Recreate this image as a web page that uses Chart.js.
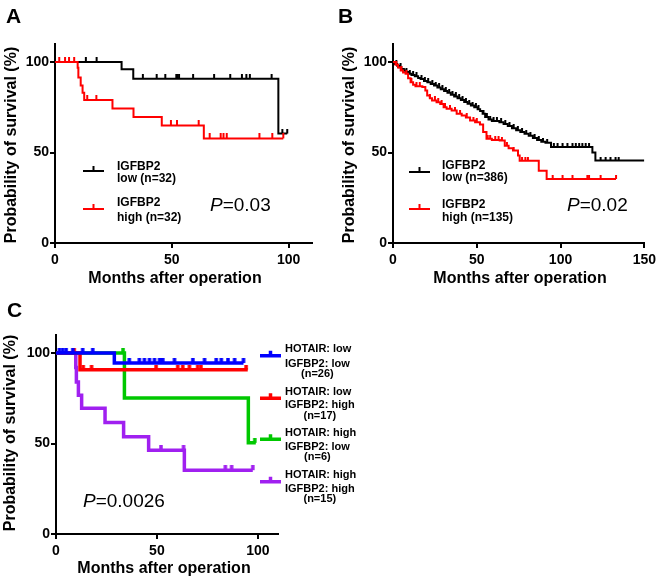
<!DOCTYPE html>
<html>
<head>
<meta charset="utf-8">
<script src="https://cdn.jsdelivr.net/npm/chart.js@4.4.1/dist/chart.umd.min.js"></script>
<style>
  body { margin: 0; background: #fff; }
  #wrap { position: relative; width: 660px; height: 580px; background: #fff; }
  canvas { position: absolute; }
</style>
</head>
<body>
<div id="wrap">
  <canvas id="chartA" width="330" height="290" style="left:0;top:0;width:330px;height:290px"></canvas>
  <canvas id="chartB" width="330" height="290" style="left:330px;top:0;width:330px;height:290px"></canvas>
  <canvas id="chartC" width="380" height="290" style="left:0;top:290px;width:380px;height:290px"></canvas>
</div>
<script>
const FONT = '"Liberation Sans", Arial, Helvetica, sans-serif';

// axis ticks
const yTickValues = [0, 50, 100];
const yTickLabels = ['0', '50', '100'];
const xTickValuesA = [0, 50, 100];
const xTickLabelsA = ['0', '50', '100'];
const xTickValuesB = [0, 50, 100, 150];
const xTickLabelsB = ['0', '50', '100', '150'];
const xTickValuesC = [0, 50, 100];
const xTickLabelsC = ['0', '50', '100'];

// Panel A : months / survival %, censored months
const aLowTimes = [0, 28.5, 33.5, 95.6, 99.4];
const aLowSurv  = [100, 96, 90.8, 60.5, 60.5];
const aLowCens  = [13.2, 17.8, 37.6, 43.5, 47.2, 51.9, 52.4, 53.1, 59.1, 68.1, 75, 80, 81.9, 83.4, 92.7, 97.3, 99.4];
const aHighTimes = [0, 9.7, 10, 11, 11.8, 12.5, 24.6, 33.6, 45.7, 63.7, 97.7];
const aHighSurv  = [100, 96.9, 91.5, 87, 83.1, 79, 74.3, 69.6, 65, 57.8, 57.8];
const aHighCens  = [1.8, 4.3, 6, 8.2, 13.8, 17.7, 49.6, 52.2, 61.5, 66.2, 70.9, 72.1, 73.5, 87.5, 93, 97.7];

// Panel B
const bLowTimes = [0, 1, 2.5, 3.6, 5, 6.5, 7.5, 9, 11, 13, 15, 16.5, 18.5, 20.5, 22.5, 24.5, 26.5, 28.5, 30.5,
  32.5, 34.5, 36.5, 38.5, 40.5, 42.5, 44.5, 46.5, 48.5, 50.5, 52, 53.5, 55, 57, 59, 63.5, 66, 68.5, 71, 73.5,
  76, 78.5, 81, 83.5, 86, 88.5, 91, 94.3, 119, 120.8, 150];
const bLowSurv = [100, 99, 98, 97.2, 96.2, 95.3, 94.5, 93.6, 92.8, 92.2, 91.2, 90.6, 89.6, 88.8, 87.9, 87, 86, 85, 84,
  83, 82, 81, 80, 79, 78, 77, 76, 75, 74, 73, 71.5, 69.6, 68.2, 67.5, 66.8, 65.8, 64.7, 63.4, 62.3,
  61.3, 60.4, 59.3, 58.1, 57, 56, 55.4, 53, 50, 45.6, 45.6];
const bLowCens = [2, 4.5, 8, 10, 12, 14, 17, 19, 21, 23.5, 25.5, 27.5, 29.5, 31.5, 33.5, 35.5, 37.5, 39.5, 41.5, 43.5,
  45.5, 47.5, 49.5, 51, 54, 56, 58, 60, 62, 64.5, 67, 69.5, 72, 74.5, 77, 79.5, 82, 84.5, 87, 89.5, 92,
  96, 98.2, 101.2, 104.1, 107.1, 109.1, 111.1, 113, 115, 117, 123.9, 126.9, 129.8, 132.8, 134.7];
const bHighTimes = [0, 1.5, 3, 4.6, 6, 7.5, 9, 10.5, 12, 13.4, 17.5, 19.3, 20.4, 22, 23.3, 26, 28.2, 30.2, 32, 35,
  38, 41, 43.5, 46, 49, 51.9, 53.8, 55.8, 59, 63.7, 66.7, 69, 71.6, 74.6, 75.6, 87, 91.7, 133.1];
const bHighSurv = [100, 98.5, 97, 95.4, 94.2, 93.5, 91, 88.9, 87.5, 86.7, 86.2, 84.3, 81.5, 80, 78.8, 77.8, 76.9, 75.1, 74.2, 73.2,
  71.4, 70.5, 69.4, 67.7, 66.8, 65.5, 61.3, 57.6, 57, 56.6, 53.8, 52.4, 51.1, 48.3, 45.5, 40, 35.4, 35.4];
const bHighCens = [2, 5, 8, 11, 14, 16, 22, 25, 27, 29, 31, 34, 37, 40, 44, 48, 50, 56.5, 58, 61, 63, 65, 68, 72,
  77, 79, 80.5, 95.3, 101.2, 107.1, 116, 117, 123.9, 133.1];

// Panel C
const cBlueTimes = [0, 28.9, 92.9];
const cBlueSurv  = [100, 94.5, 94.5];
const cBlueCens  = [1.7, 3.3, 5, 8.3, 13.2, 18.2, 36.3, 41.3, 43.8, 46.3, 48.8, 51.3, 52.1, 52.9, 58.7, 67.8, 73.6, 79.4, 81.9, 85.2, 88.5, 92.9];
const cRedTimes = [0, 11.9, 95];
const cRedSurv  = [100, 90.8, 90.8];
const cRedCens  = [9, 13.5, 17.6, 49.6, 60.3, 62.8, 66.1, 70.2, 71.8, 94.2];
const cGreenTimes = [0, 33.9, 95.3, 99];
const cGreenSurv  = [100, 75.2, 50.4, 50.4];
const cGreenCens  = [33.2, 98.5];
const cPurpleTimes = [0, 9.8, 10.1, 11.1, 12.7, 24.3, 33.5, 45.9, 63.6, 97.5];
const cPurpleSurv  = [100, 92, 84, 76.7, 69.5, 61.6, 53.7, 46.3, 35.3, 35.3];
const cPurpleCens  = [52, 63.2, 83.9, 87, 97.5];

// legends
const legendA = [['IGFBP2', 'low (n=32)'], ['IGFBP2', 'high (n=32)']];
const legendB = [['IGFBP2', 'low (n=386)'], ['IGFBP2', 'high (n=135)']];
const legendC = [
  ['HOTAIR: low', 'IGFBP2: low', '(n=26)'],
  ['HOTAIR: low', 'IGFBP2: high', '(n=17)'],
  ['HOTAIR: high', 'IGFBP2: low', '(n=6)'],
  ['HOTAIR: high', 'IGFBP2: high', '(n=15)']
];
const colorsC = ['#0000ff', '#ff0000', '#00c800', '#a020f0'];

function kmLine(times, surv) {
  return times.map((t, i) => ({ x: t, y: surv[i] }));
}
function survAt(times, surv, t) {
  let v = surv[0];
  for (let i = 0; i < times.length; i++) if (times[i] <= t) v = surv[i];
  return v;
}
function tickMark(color, w, h) {
  const c = document.createElement('canvas');
  c.width = Math.ceil(w) + 2;
  c.height = h * 2;
  const g = c.getContext('2d');
  g.fillStyle = color;
  g.fillRect((c.width - w) / 2, 0, w, h);
  return c;
}
function curve(times, surv, cens, color, width, tickH) {
  return [
    { data: kmLine(times, surv), borderColor: color, borderWidth: width, stepped: 'before', pointRadius: 0, fill: false },
    { data: cens.map(t => ({ x: t, y: survAt(times, surv, t) })), showLine: false,
      pointStyle: tickMark(color, width, tickH), pointRadius: 3, borderColor: color, backgroundColor: color }
  ];
}

function axes(xMax, xVals, xLabels, yWidth, xHeight) {
  const tickFont = { family: FONT, size: 14, weight: 'bold' };
  const grid = { drawOnChartArea: false, color: '#000', lineWidth: 2, tickLength: 5 };
  const border = { color: '#000', width: 2 };
  return {
    x: {
      type: 'linear', min: 0, max: xMax, grid, border,
      afterBuildTicks: s => { s.ticks = xVals.map(v => ({ value: v })); },
      afterFit: s => { s.height = xHeight; },
      ticks: { color: '#000', font: tickFont, padding: 4, maxRotation: 0, autoSkip: false, callback: (v, i) => xLabels[i] }
    },
    y: {
      type: 'linear', min: 0, max: 110, grid, border,
      afterBuildTicks: s => { s.ticks = yTickValues.map(v => ({ value: v })); },
      afterFit: s => { s.width = yWidth; },
      ticks: { color: '#000', font: tickFont, padding: 1, autoSkip: false, callback: (v, i) => yTickLabels[i] }
    }
  };
}

function txt(ctx, s, x, y, size, o = {}) {
  ctx.font = `${o.style || 'normal'} ${o.weight || 'bold'} ${size}px ${FONT}`;
  ctx.fillStyle = '#000';
  ctx.textAlign = o.align || 'left';
  ctx.textBaseline = o.base || 'alphabetic';
  ctx.fillText(s, x, y);
}
function yTitle(ctx, cx, cy) {
  ctx.save();
  ctx.translate(cx, cy);
  ctx.rotate(-Math.PI / 2);
  txt(ctx, 'Probability of survival (%)', 0, 0, 16, { align: 'center', base: 'middle' });
  ctx.restore();
}
function xTitle(ctx, cx, cy) {
  txt(ctx, 'Months after operation', cx, cy, 16, { align: 'center', base: 'middle' });
}
function pValue(ctx, val, x, y) {
  txt(ctx, 'P', x, y, 19, { style: 'italic', weight: 'normal' });
  const w = ctx.measureText('P').width;
  txt(ctx, '=' + val, x + w, y, 19, { weight: 'normal' });
}
function legendMark(ctx, x1, x2, y, color, w, h) {
  ctx.strokeStyle = color;
  ctx.lineWidth = w;
  ctx.beginPath();
  ctx.moveTo(x1, y); ctx.lineTo(x2, y);
  const m = (x1 + x2) / 2;
  ctx.moveTo(m, y); ctx.lineTo(m, y - h);
  ctx.stroke();
}

const base = {
  responsive: false, animation: false, devicePixelRatio: 1,
  plugins: { legend: { display: false }, tooltip: { enabled: false } }
};

// ---- A ----
new Chart(document.getElementById('chartA'), {
  type: 'line',
  data: { datasets: [
    ...curve(aHighTimes, aHighSurv, aHighCens, '#ff0000', 2, 5),
    ...curve(aLowTimes, aLowSurv, aLowCens, '#000000', 2, 5)
  ] },
  options: { ...base, layout: { padding: { left: 0, top: 44, right: 18, bottom: 0 } },
    scales: axes(110, xTickValuesA, xTickLabelsA, 55, 47) },
  plugins: [{ id: 'overlayA', afterDraw(chart) {
    const ctx = chart.ctx;
    txt(ctx, 'A', 6, 23, 21);
    yTitle(ctx, 12, 145);
    xTitle(ctx, 175, 279);
    legendMark(ctx, 83, 104, 171, '#000', 2, 5);
    txt(ctx, legendA[0][0], 117, 169.5, 12);
    txt(ctx, legendA[0][1], 117, 181.5, 12);
    legendMark(ctx, 83, 104, 209, '#ff0000', 2, 5);
    txt(ctx, legendA[1][0], 117, 206, 12);
    txt(ctx, legendA[1][1], 117, 220.5, 12);
    pValue(ctx, '0.03', 210, 211);
  } }]
});

// ---- B ----
new Chart(document.getElementById('chartB'), {
  type: 'line',
  data: { datasets: [
    ...curve(bHighTimes, bHighSurv, bHighCens, '#ff0000', 2, 4),
    ...curve(bLowTimes, bLowSurv, bLowCens, '#000000', 2, 4)
  ] },
  options: { ...base, layout: { padding: { left: 0, top: 44, right: 14, bottom: 0 } },
    scales: axes(150, xTickValuesB, xTickLabelsB, 63, 47) },
  plugins: [{ id: 'overlayB', afterDraw(chart) {
    const ctx = chart.ctx;
    txt(ctx, 'B', 8, 23, 21);
    yTitle(ctx, 20, 145);
    xTitle(ctx, 190, 279);
    legendMark(ctx, 79, 100, 172, '#000', 2, 5);
    txt(ctx, legendB[0][0], 112, 168.5, 12);
    txt(ctx, legendB[0][1], 112, 181, 12);
    legendMark(ctx, 79, 100, 209, '#ff0000', 2, 5);
    txt(ctx, legendB[1][0], 112, 208, 12);
    txt(ctx, legendB[1][1], 112, 221, 12);
    pValue(ctx, '0.02', 237, 211);
  } }]
});

// ---- C ----
new Chart(document.getElementById('chartC'), {
  type: 'line',
  data: { datasets: [
    ...curve(cBlueTimes, cBlueSurv, cBlueCens, colorsC[0], 3.5, 5),
    ...curve(cRedTimes, cRedSurv, cRedCens, colorsC[1], 3.5, 5),
    ...curve(cGreenTimes, cGreenSurv, cGreenCens, colorsC[2], 3.5, 5),
    ...curve(cPurpleTimes, cPurpleSurv, cPurpleCens, colorsC[3], 3.5, 5)
  ] },
  options: { ...base, layout: { padding: { left: 0, top: 45, right: 102, bottom: 0 } },
    scales: axes(110, xTickValuesC, xTickLabelsC, 56, 46) },
  plugins: [{ id: 'overlayC', afterDraw(chart) {
    const ctx = chart.ctx;
    txt(ctx, 'C', 7, 27, 21);
    yTitle(ctx, 11, 143);
    xTitle(ctx, 164, 279);
    const markY = [65.7, 108.3, 149.3, 191.7];
    const line1 = [62.3, 105, 146, 188.3];
    const line2 = [76.7, 117.7, 160, 201.7];
    const line3 = [86.5, 129, 169.5, 211.5];
    legendC.forEach((lab, i) => {
      legendMark(ctx, 260, 281, markY[i], colorsC[i], 3.5, 5);
      txt(ctx, lab[0], 285, line1[i], 11);
      txt(ctx, lab[1], 285, line2[i], 11);
      ctx.font = `bold 11px ${FONT}`;
      const cx = 285 + ctx.measureText(lab[1]).width / 2;
      txt(ctx, lab[2], cx, line3[i], 11, { align: 'center' });
    });
    pValue(ctx, '0.0026', 83, 217);
  } }]
});
</script>
</body>
</html>
